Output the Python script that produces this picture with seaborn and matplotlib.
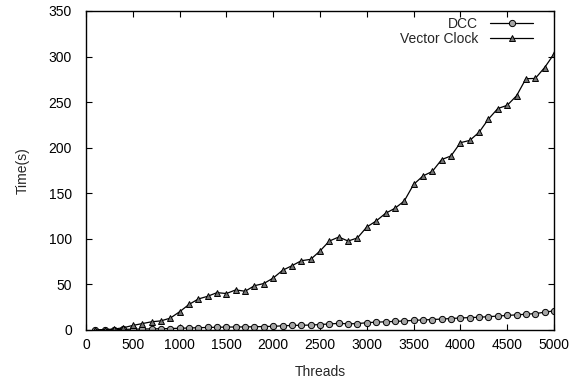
import matplotlib
matplotlib.use("Agg")
import matplotlib.pyplot as plt
import seaborn as sns
import pandas as pd

threads = list(range(100, 5001, 100))

dcc = [0.2, 0.3, 0.5, 0.7, 0.9, 1.1, 1.2, 1.4, 1.6, 1.9,
       2.2, 2.5, 2.8, 3.0, 3.2, 3.3, 3.4, 3.6, 3.8, 4.0,
       4.6, 5.0, 5.2, 5.4, 6.0, 6.6, 7.3, 6.8, 7.0, 8.0,
       8.6, 9.0, 9.4, 9.9, 10.6, 11.0, 11.5, 12.0, 12.6, 13.2,
       13.6, 14.0, 14.6, 15.3, 16.0, 16.6, 17.3, 18.0, 19.5, 21.0]

vector_clock = [0.0, 0.5, 1.0, 2.5, 5.0, 7.0, 9.0, 10.0, 13.0, 20.0,
                28.0, 34.0, 37.0, 41.0, 40.0, 44.0, 42.5, 48.6, 51.0, 57.0,
                65.5, 70.5, 76.0, 77.5, 86.7, 97.6, 102.0, 97.6, 101.0, 113.0,
                119.6, 128.0, 133.5, 141.5, 159.7, 169.0, 174.0, 187.0, 191.0, 205.5,
                208.0, 217.0, 231.5, 243.0, 246.5, 257.0, 275.7, 276.0, 288.0, 302.8]

df = pd.DataFrame({"Threads": threads, "DCC": dcc, "Vector Clock": vector_clock})

sns.set_style("ticks")
plt.rcParams['font.family'] = ['Liberation Sans', 'DejaVu Sans']

fig = plt.figure(figsize=(5.87, 3.79), dpi=100)
ax = fig.add_axes([0.1465, 0.1293, 0.7973, 0.8417])

sns.lineplot(data=df, x="Threads", y="DCC", ax=ax, color="black", linewidth=0.9,
             marker="o", markersize=4.5, markerfacecolor="0.65", markeredgecolor="black",
             markeredgewidth=0.7, label="DCC")
sns.lineplot(data=df, x="Threads", y="Vector Clock", ax=ax, color="black", linewidth=0.9,
             marker="^", markersize=4.5, markerfacecolor="0.45", markeredgecolor="black",
             markeredgewidth=0.7, label="Vector Clock")

ax.set_xlim(0, 5000)
ax.set_ylim(0, 350)
ax.set_xticks(range(0, 5001, 500))
ax.set_yticks(range(0, 351, 50))
ax.tick_params(direction="in", length=4, width=0.8, labelsize=10,
               top=True, right=True, colors="black")
ax.tick_params(axis="x", pad=6)
ax.tick_params(axis="y", pad=10)
for s in ax.spines.values():
    s.set_linewidth(1.0)
    s.set_color("black")
    s.set_visible(True)

ax.set_xlabel("Threads", fontsize=10, labelpad=9)
ax.set_ylabel("Time(s)", fontsize=10, labelpad=14)

ax.legend(loc="upper right", bbox_to_anchor=(0.962, 0.99), frameon=False,
          markerfirst=False, fontsize=10, handlelength=3.1, handletextpad=0.9,
          borderaxespad=0, borderpad=0.2, labelspacing=0.05)

fig.savefig("out.png", dpi=100)
